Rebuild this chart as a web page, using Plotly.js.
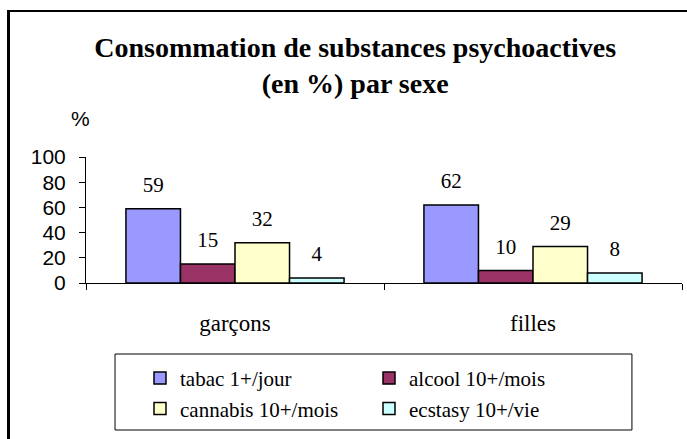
<!DOCTYPE html>
<html><head><meta charset="utf-8">
<script src="https://cdn.plot.ly/plotly-3.0.1.min.js"></script>
<style>
html,body{margin:0;padding:0;background:#fff;overflow:hidden;}
#wrap{position:relative;width:687px;height:439px;overflow:hidden;}
#chart{width:687px;height:439px;}
#fl{position:absolute;left:7px;top:10px;width:3px;height:440px;background:#000;z-index:10;}
#ft{position:absolute;left:7px;top:10px;width:690px;height:2px;background:#000;z-index:10;}
</style>
</head><body>
<div id="wrap"><div id="chart"></div><div id="fl"></div><div id="ft"></div></div>
<script>
const categories = ['garçons', 'filles'];
const seriesNames = ['tabac 1+/jour', 'alcool 10+/mois', 'cannabis 10+/mois', 'ecstasy 10+/vie'];
const tabac = [59, 62];
const alcool = [15, 10];
const cannabis = [32, 29];
const ecstasy = [4, 8];
const yTicks = [0, 20, 40, 60, 80, 100];
const colors = ['#9999FF', '#993366', '#FFFFCC', '#CCFFFF'];
const titleText = 'Consommation de substances psychoactives<br>(en %) par sexe';
const yLabel = '%';

const series = [tabac, alcool, cannabis, ecstasy];
const serif = 'Liberation Serif';
const sans = 'Liberation Sans';

const traces = [];
series.forEach((vals, i) => {
  traces.push({
    type: 'bar', x: categories, y: vals, name: seriesNames[i],
    offsetgroup: 'g' + i,
    marker: {color: colors[i], line: {color: '#000', width: 1.5}},
    hoverinfo: 'skip'
  });
});
series.forEach((vals, i) => {
  traces.push({
    type: 'scatter', mode: 'markers+text', x: categories, y: vals,
    text: vals.map(String), textposition: 'top center',
    offsetgroup: 'g' + i, showlegend: false, cliponaxis: false,
    marker: {size: 17, color: 'rgba(0,0,0,0)'},
    textfont: {family: serif, size: 21, color: '#000'},
    hoverinfo: 'skip'
  });
});

const layout = {
  width: 687, height: 439,
  margin: {l: 86, r: 5, t: 157, b: 156, pad: 0, autoexpand: false},
  paper_bgcolor: '#fff', plot_bgcolor: '#fff',
  barmode: 'group', bargap: 0.268, bargroupgap: 0,
  scattermode: 'group', scattergap: 0.268,
  title: {
    text: titleText, xref: 'container', x: 0.517, xanchor: 'center',
    yref: 'container', y: 0.87, yanchor: 'top',
    font: {family: serif, size: 28, color: '#000', weight: 'bold'}
  },
  xaxis: {
    type: 'category', showline: true, linecolor: '#000', linewidth: 1,
    ticks: 'outside', tickson: 'boundaries', ticklen: 6, tickcolor: '#000',
    showgrid: false, zeroline: false, ticklabelstandoff: 19,
    tickfont: {family: serif, size: 23, color: '#000'}
  },
  yaxis: {
    range: [0, 100], tickvals: yTicks, ticktext: yTicks.map(String),
    showline: true, linecolor: '#000', linewidth: 1,
    ticks: 'outside', ticklen: 6, tickcolor: '#000',
    showgrid: false, zeroline: false, ticklabelstandoff: 9,
    tickfont: {family: sans, size: 21, color: '#000'}
  },
  legend: {
    orientation: 'h', x: 0.0906, xanchor: 'left', y: -0.595, yanchor: 'top',
    entrywidth: 184, entrywidthmode: 'pixels', traceorder: 'normal',
    font: {family: serif, size: 21, color: '#000'},
    bgcolor: 'rgba(0,0,0,0)', borderwidth: 0
  },
  shapes: [{
    type: 'rect', xref: 'paper', yref: 'paper',
    x0: 0.0487, x1: 0.916, y0: -1.1667, y1: -0.5635,
    line: {color: '#000', width: 1}
  }],
  annotations: [{
    text: yLabel, xref: 'paper', yref: 'paper', x: -0.01, y: 1.3095,
    xanchor: 'center', yanchor: 'middle', showarrow: false,
    font: {family: sans, size: 21, color: '#000'}
  }]
};

Plotly.newPlot('chart', traces, layout, {staticPlot: true, displayModeBar: false});
</script>
</body></html>
